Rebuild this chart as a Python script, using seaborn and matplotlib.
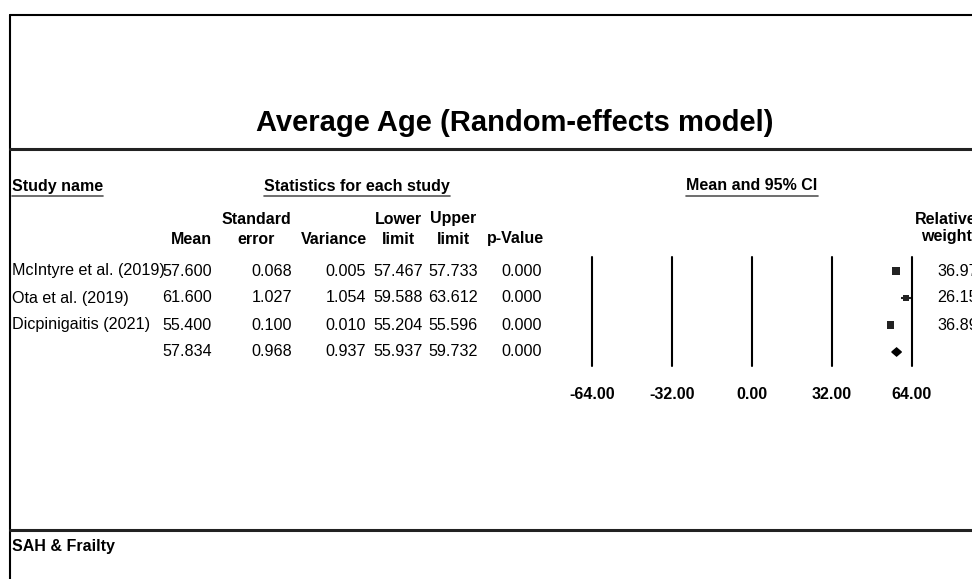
import matplotlib
matplotlib.use('Agg')
import matplotlib.pyplot as plt
import numpy as np
import pandas as pd
import seaborn as sns

# Data
studies = ['McIntyre et al. (2019)', 'Ota et al. (2019)', 'Dicpinigaitis (2021)']
means = [57.600, 61.600, 55.400]
std_errors = [0.068, 1.027, 0.100]
variances = [0.005, 1.054, 0.010]
lower_limits = [57.467, 59.588, 55.204]
upper_limits = [57.733, 63.612, 55.596]
p_values = [0.000, 0.000, 0.000]
rel_weights = [36.97, 26.15, 36.89]

summary_mean = 57.834
summary_se = 0.968
summary_var = 0.937
summary_lower = 55.937
summary_upper = 59.732
summary_p = 0.000

axis_ticks = [-64, -32, 0, 32, 64]

sns.set_style('white')
plt.rcParams['font.family'] = ['Liberation Sans', 'DejaVu Sans']
plt.rcParams['text.color'] = 'black'
plt.rcParams['xtick.color'] = 'black'

W, H = 972, 579
fig = plt.figure(figsize=(W / 100, H / 100), dpi=100)

# Background axes in pixel coordinates for the table part
ax0 = fig.add_axes([0, 0, 1, 1])
ax0.set_xlim(0, W)
ax0.set_ylim(H, 0)
ax0.axis('off')

# Frame lines
ax0.plot([10, W], [15, 15], color='black', lw=1.5)
ax0.plot([10, 10], [15, H], color='black', lw=1.5)
ax0.plot([10, W], [149, 149], color='#222222', lw=2.2)
ax0.plot([10, W], [530, 530], color='#222222', lw=2.2)

ax0.text(515, 123, 'Average Age (Random-effects model)', ha='center', va='center',
         fontsize=21, fontweight='bold')
ax0.text(12, 546, 'SAH & Frailty', ha='left', va='center', fontsize=11.5, fontweight='bold')

# Group headers (underlined)
hfs = 11.5
bfs = 11.6
headers = [(12, 'Study name', 'left'), (357, 'Statistics for each study', 'center'),
           (752, 'Mean and 95% CI', 'center')]
hdr_texts = []
for x, s, ha in headers:
    hdr_texts.append(ax0.text(x, 186, s, ha=ha, va='center', fontsize=hfs, fontweight='bold'))

# Column headers (centred over each column)
col_right = [212, 292, 366, 423, 478, 542]
ax0.text(256, 219, 'Standard', ha='center', va='center', fontsize=hfs, fontweight='bold')
ax0.text(398, 219, 'Lower', ha='center', va='center', fontsize=hfs, fontweight='bold')
ax0.text(453, 219, 'Upper', ha='center', va='center', fontsize=hfs, fontweight='bold')
ax0.text(212, 239, 'Mean', ha='right', va='center', fontsize=hfs, fontweight='bold')
ax0.text(367, 239, 'Variance', ha='right', va='center', fontsize=hfs, fontweight='bold')
for x, s in zip([256, 398, 453, 515], ['error', 'limit', 'limit', 'p-Value']):
    ax0.text(x, 239, s, ha='center', va='center', fontsize=hfs, fontweight='bold')
ax0.text(946, 220, 'Relative', ha='center', va='center', fontsize=hfs, fontweight='bold')
ax0.text(946, 236, 'weight', ha='center', va='center', fontsize=hfs, fontweight='bold')

# Table rows
row_y = [271, 298, 325, 352]
table = pd.DataFrame({'name': studies + [''],
                      'mean': means + [summary_mean],
                      'se': std_errors + [summary_se],
                      'var': variances + [summary_var],
                      'low': lower_limits + [summary_lower],
                      'up': upper_limits + [summary_upper],
                      'p': p_values + [summary_p]})
for i, row in table.iterrows():
    y = row_y[i]
    ax0.text(12, y, row['name'], ha='left', va='center', fontsize=bfs)
    for x, col in zip(col_right, ['mean', 'se', 'var', 'low', 'up', 'p']):
        ax0.text(x, y, f'{row[col]:.3f}', ha='right', va='center', fontsize=bfs)
for y, w in zip(row_y, rel_weights):
    ax0.text(937, y, f'{w:.2f}', ha='left', va='center', fontsize=bfs)

# Underline the group headers
fig.canvas.draw()
r = fig.canvas.get_renderer()
inv = ax0.transData.inverted()
for t in hdr_texts:
    bb = t.get_window_extent(renderer=r)
    (x0, _), (x1, _) = inv.transform([(bb.x0, bb.y0), (bb.x1, bb.y0)])
    ax0.plot([x0, x1], [196, 196], color='#555555', lw=1.2)

# Forest plot axes: x -64..64 -> px 592..912, rows -> px 271..352
px0, px1 = 592, 912
py_top, py_bot = 257, 366
ax = fig.add_axes([px0 / W, 1 - py_bot / H, (px1 - px0) / W, (py_bot - py_top) / H])
ax.set_xlim(-64, 64)
step = (row_y[-1] - row_y[0]) / 3
ax.set_ylim(3 + (py_bot - row_y[-1]) / step, -(row_y[0] - py_top) / step)
ax.patch.set_alpha(0)
for s in ax.spines.values():
    s.set_visible(False)
ax.set_yticks([])

# full-height reference lines at each tick (not clipped at the axes edges)
for t in axis_ticks:
    ax.axvline(t, color='black', lw=1.5, zorder=1, clip_on=False)

forest = pd.DataFrame({'mean': means, 'row': [0, 1, 2], 'weight': rel_weights})
ax.hlines(forest['row'], lower_limits, upper_limits, color='#222222', lw=1.5, zorder=2)
sns.scatterplot(data=forest, x='mean', y='row', size='weight', sizes=(18, 32),
                marker='s', color='#222222', edgecolor='none', legend=False, ax=ax,
                zorder=3, clip_on=False)

# Summary diamond
h = 0.15
ax.fill([summary_lower, summary_mean, summary_upper, summary_mean],
        [3, 3 - h, 3, 3 + h], color='black', zorder=3, clip_on=False)

ax.set_xticks(axis_ticks)
ax.set_xticklabels([f'{t:.2f}' for t in axis_ticks], fontsize=hfs, fontweight='bold')
ax.tick_params(axis='x', length=0, pad=15)
ax.set_xlabel('')
ax.set_ylabel('')

fig.savefig('out.png', dpi=100)
